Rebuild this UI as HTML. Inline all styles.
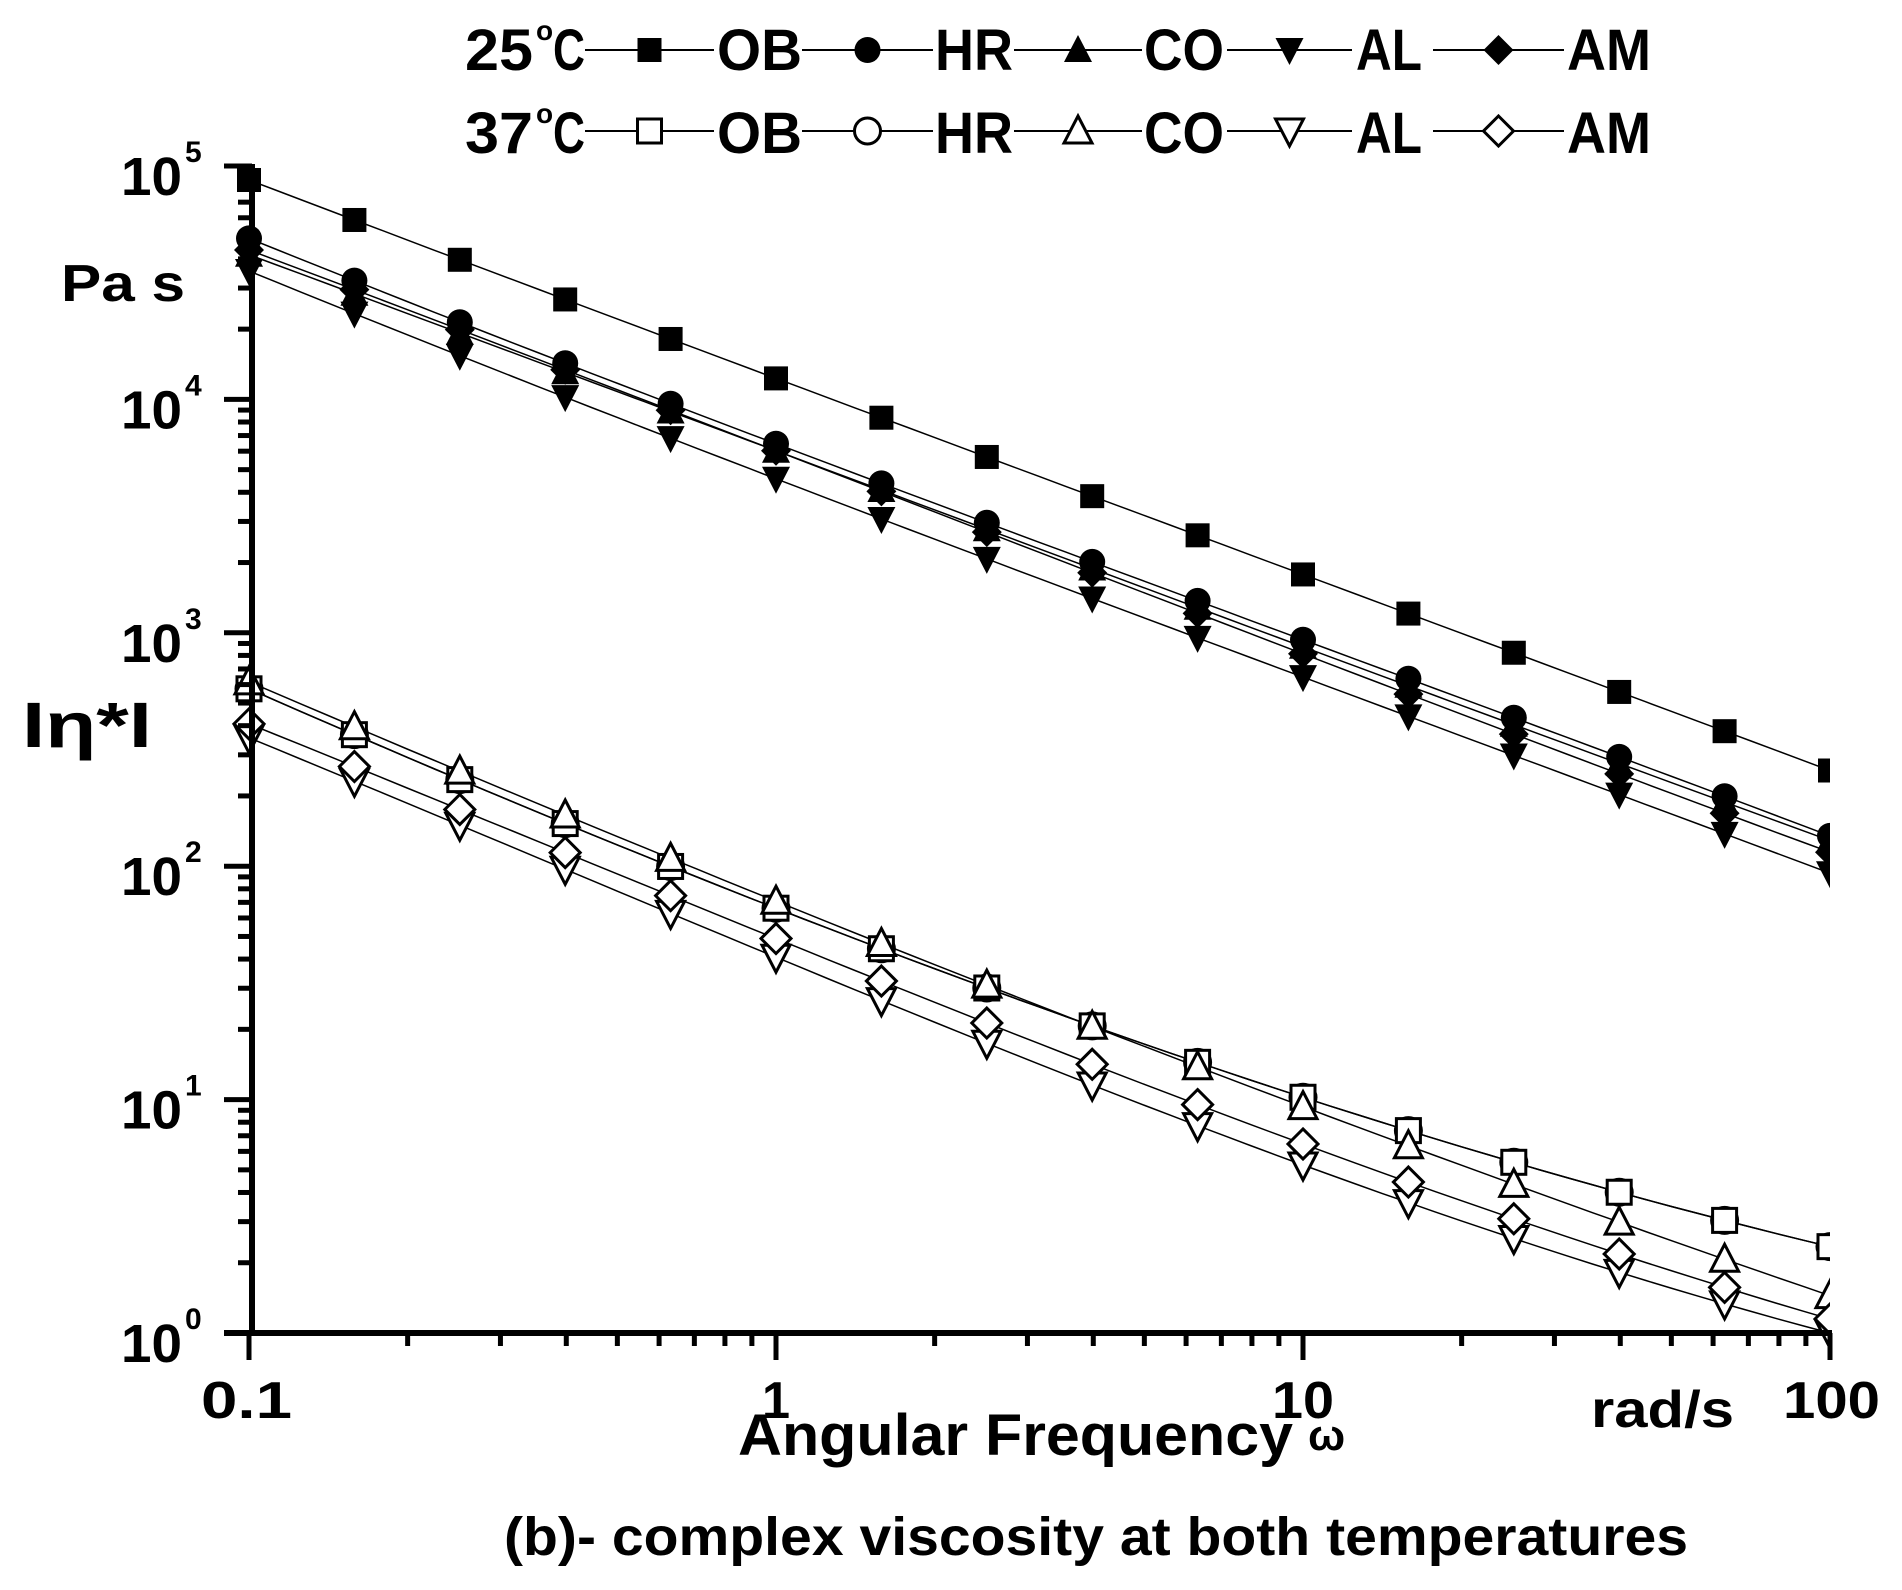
<!DOCTYPE html>
<html><head><meta charset="utf-8"><style>html,body{margin:0;padding:0;background:#fff}svg{display:block}text{font-family:"Liberation Sans",sans-serif;font-weight:bold;fill:#000}</style></head>
<body>
<svg id="s" width="1902" height="1590" viewBox="0 0 1902 1590" xmlns="http://www.w3.org/2000/svg">
<defs><clipPath id="c"><rect x="200" y="100" width="1630" height="1300"/></clipPath></defs>
<g id="plot" clip-path="url(#c)"></g>
<g id="axes"></g>
<g font-size="58">
<text x="465" y="70" textLength="68" lengthAdjust="spacingAndGlyphs">25</text><text x="536" y="40" font-size="28">o</text><text x="553" y="70" textLength="32" lengthAdjust="spacingAndGlyphs">C</text>
<text x="717" y="70" textLength="85" lengthAdjust="spacingAndGlyphs">OB</text><text x="935" y="70" textLength="78" lengthAdjust="spacingAndGlyphs">HR</text><text x="1144" y="70" textLength="80" lengthAdjust="spacingAndGlyphs">CO</text><text x="1356" y="70" textLength="66" lengthAdjust="spacingAndGlyphs">AL</text><text x="1567" y="70" textLength="84" lengthAdjust="spacingAndGlyphs">AM</text>
<text x="465" y="153" textLength="68" lengthAdjust="spacingAndGlyphs">37</text><text x="536" y="123" font-size="28">o</text><text x="553" y="153" textLength="32" lengthAdjust="spacingAndGlyphs">C</text>
<text x="717" y="153" textLength="85" lengthAdjust="spacingAndGlyphs">OB</text><text x="935" y="153" textLength="78" lengthAdjust="spacingAndGlyphs">HR</text><text x="1144" y="153" textLength="80" lengthAdjust="spacingAndGlyphs">CO</text><text x="1356" y="153" textLength="66" lengthAdjust="spacingAndGlyphs">AL</text><text x="1567" y="153" textLength="84" lengthAdjust="spacingAndGlyphs">AM</text>
</g>
<g font-size="52">
<text x="201" y="1418" textLength="91" lengthAdjust="spacingAndGlyphs">0.1</text>
<text x="762" y="1418" textLength="28" lengthAdjust="spacingAndGlyphs">1</text>
<text x="1272" y="1418" textLength="62" lengthAdjust="spacingAndGlyphs">10</text>
<text x="1783" y="1418" textLength="97" lengthAdjust="spacingAndGlyphs">100</text>
</g>
<g id="ylab"></g>
<text x="61" y="301" font-size="52" textLength="124" lengthAdjust="spacingAndGlyphs">Pa s</text>
<text x="22" y="747" font-size="64" textLength="130" lengthAdjust="spacingAndGlyphs">Iη*I</text>
<text x="738" y="1455" font-size="58" textLength="555" lengthAdjust="spacingAndGlyphs">Angular Frequency</text>
<text x="1308" y="1450" font-size="44">ω</text>
<text x="1591" y="1427" font-size="52" textLength="143" lengthAdjust="spacingAndGlyphs">rad/s</text>
<text x="504" y="1555" font-size="54" textLength="1184" lengthAdjust="spacingAndGlyphs">(b)- complex viscosity at both temperatures</text>
</svg>
<script>
var NS="http://www.w3.org/2000/svg",plot=document.getElementById('plot'),axes=document.getElementById('axes');
function el(p,t,a){var e=document.createElementNS(NS,t);for(var k in a)e.setAttribute(k,a[k]);p.appendChild(e);return e;}
function X(u){return 249+527*u;} function Y(L){return 1333-233.4*L;}
function marker(p,type,x,y,filled,s){s=s||12;var f=filled?'#000':'#fff',st={fill:f,stroke:'#000','stroke-width':filled?0:3};
 if(type=='sq')el(p,'rect',Object.assign({x:x-s,y:y-s,width:2*s,height:2*s},st));
 else if(type=='ci')el(p,'circle',Object.assign({cx:x,cy:y,r:s+1},st));
 else if(type=='tu')el(p,'polygon',Object.assign({points:(x)+','+(y-s-3)+' '+(x+s+2)+','+(y+s)+' '+(x-s-2)+','+(y+s)},st));
 else if(type=='td')el(p,'polygon',Object.assign({points:(x)+','+(y+s+3)+' '+(x+s+2)+','+(y-s)+' '+(x-s-2)+','+(y-s)},st));
 else el(p,'polygon',Object.assign({points:x+','+(y-s-3)+' '+(x+s+3)+','+y+' '+x+','+(y+s+3)+' '+(x-s-3)+','+y},st));
}
var S=[
 ['sq',1,[4.94,4.09,3.25,2.41]],
 ['tu',1,[4.62,3.78,2.94,2.11]],
 ['td',1,[4.55,3.66,2.81,1.97]],
 ['di',1,[4.64,3.78,2.91,2.06]],
 ['ci',1,[4.69,3.81,2.97,2.13]],
 ['ci',0,[2.76,1.82,1.01,0.37]],
 ['sq',0,[2.76,1.82,1.01,0.37]],
 ['tu',0,[2.79,1.85,0.97,0.16]],
 ['td',0,[2.55,1.61,0.72,0.00]],
 ['di',0,[2.61,1.69,0.81,0.06]]
];
function interp(a,u){var r=0;for(var i=0;i<4;i++){var t=a[i];for(var j=0;j<4;j++)if(j!=i)t*=(u-j)/(i-j);r+=t;}return r;}
S.forEach(function(s){var pts=[];for(var k=0;k<=60;k++){var u=k/20;pts.push(X(u).toFixed(1)+','+Y(interp(s[2],u)).toFixed(1));}
 el(plot,'polyline',{points:pts.join(' '),fill:'none',stroke:'#000','stroke-width':1.5});});
S.forEach(function(s){for(var k=0;k<=15;k++){var u=k/5;marker(plot,s[0],X(u),Y(interp(s[2],u)),s[1]);}});
el(axes,'line',{x1:252,y1:164,x2:252,y2:1336,stroke:'#000','stroke-width':6});
el(axes,'line',{x1:224,y1:1333,x2:1832,y2:1333,stroke:'#000','stroke-width':6});
for(var d=0;d<3;d++)for(var m=1;m<=10;m++){var x=X(d+Math.log10(m));if(d>0&&m==1)continue;el(axes,'line',{x1:x,y1:1333,x2:x,y2:(m==1||m==10)?1360:1346,stroke:'#000','stroke-width':5});}
for(var d=0;d<5;d++)for(var m=1;m<=10;m++){var y=Y(d+Math.log10(m));if(d>0&&m==1)continue;el(axes,'line',{x1:252,y1:y,x2:(m==1||m==10)?224:238,y2:y,stroke:'#000','stroke-width':5});}
var yl=document.getElementById('ylab');
for(var d=0;d<=5;d++){var t=el(yl,'text',{x:121,y:Y(d)+29,'font-size':54,textLength:61,lengthAdjust:'spacingAndGlyphs'});t.textContent='10';var sp=el(yl,'text',{x:185,y:Y(d)-4,'font-size':30});sp.textContent=d;}
var L=[[585,714,'sq'],[802,933,'ci'],[1014,1142,'tu'],[1227,1352,'td'],[1433,1564,'di']];
var lg=el(document.getElementById('s'),'g',{});
L.forEach(function(l){[[50,1],[131,0]].forEach(function(r){el(lg,'line',{x1:l[0],y1:r[0],x2:l[1],y2:r[0],stroke:'#000','stroke-width':2});marker(lg,l[2],(l[0]+l[1])/2,r[0],r[1]);});});
</script>
</body></html>
